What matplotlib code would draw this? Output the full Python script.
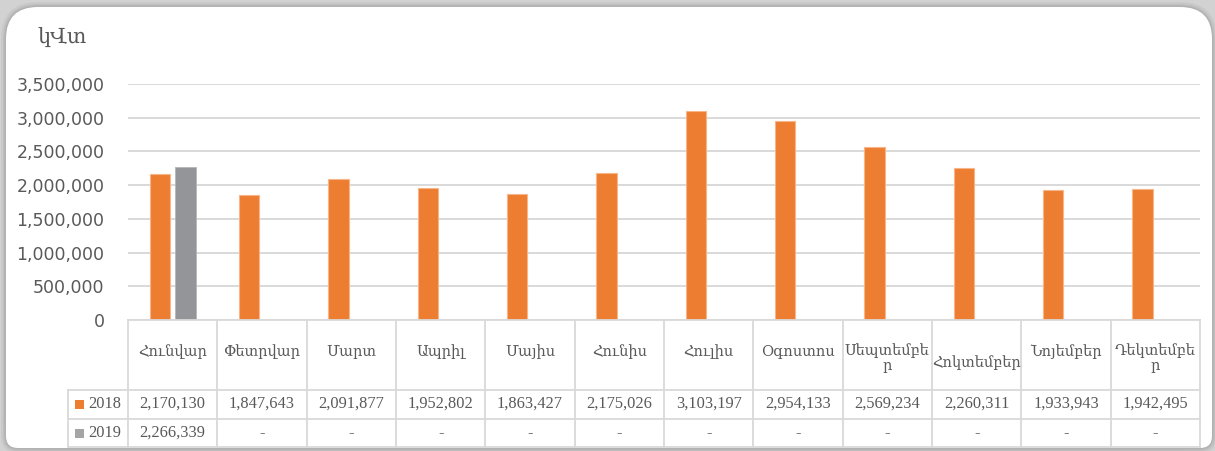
import matplotlib
matplotlib.use("Agg")
import matplotlib.pyplot as plt
from matplotlib.patches import FancyBboxPatch, Rectangle
from matplotlib.ticker import FuncFormatter

# ---------------- data ----------------
months = ['Հունվար', 'Փետրվար', 'Մարտ', 'Ապրիլ', 'Մայիս', 'Հունիս', 'Հուլիս',
          'Օգոստոս', 'Սեպտեմբե\nր', 'Հոկտեմբեր', 'Նոյեմբեր', 'Դեկտեմբե\nր']
series_names = ['2018', '2019']
vals_2018 = [2170130, 1847643, 2091877, 1952802, 1863427, 2175026, 3103197,
             2954133, 2569234, 2260311, 1933943, 1942495]
vals_2019 = [2266339, None, None, None, None, None, None, None, None, None, None, None]
y_ticks = [0, 500000, 1000000, 1500000, 2000000, 2500000, 3000000, 3500000]
unit_label = 'կՎտ'

# ---------------- style ----------------
W, H = 1215, 451
C18 = '#ED7D31'
C19_BAR = '#939598'
C19_KEY = '#A5A5A5'
GRID = '#D9D9D9'
TXT = '#595959'
SERIF = ['Liberation Serif', 'DejaVu Serif', 'DejaVu Sans']
SANS = ['DejaVu Sans']

fig = plt.figure(figsize=(W / 100, H / 100), dpi=100)
fig.patch.set_facecolor('#D2D2D2')

# background card with shadow (darker next to the card); big top corners, small bottom ones
bg = fig.add_axes([0, 0, 1, 1], zorder=0)
bg.set_xlim(0, W); bg.set_ylim(0, H); bg.axis('off')
cx0, cy0, cw, ch = 6, 3, 1206, 441

def card(pad, col):
    bg.add_patch(FancyBboxPatch((cx0 - pad, cy0 - pad), cw + 2 * pad, ch + 2 * pad,
                                boxstyle="round,pad=0,rounding_size=%g" % (32 + pad),
                                facecolor=col, edgecolor='none'))
    bg.add_patch(FancyBboxPatch((cx0 - pad, cy0 - pad), cw + 2 * pad, 300,
                                boxstyle="round,pad=0,rounding_size=%g" % (12 + pad),
                                facecolor=col, edgecolor='none'))

for pad, col in [(5, '#C9C9C9'), (3, '#BEBEBE'), (1.5, '#B2B2B2')]:
    card(pad, col)
card(0, 'white')

# main bar axes (pixel layout: x 128..1200, y 84..320 from top)
x0, x1 = 128, 1200
ytop, ybot = 84, 320
ax = fig.add_axes([x0 / W, (H - ybot) / H, (x1 - x0) / W, (ybot - ytop) / H], zorder=1)
ax.patch.set_alpha(0)
n = len(months)
ax.set_xlim(-0.5, n - 0.5)
ax.set_ylim(0, y_ticks[-1])
ax.set_yticks(y_ticks)
ax.yaxis.set_major_formatter(FuncFormatter(lambda v, p: f"{int(v):,}"))
ax.tick_params(axis='y', length=0, pad=17, labelsize=12.5, labelcolor=TXT)
for lab in ax.get_yticklabels():
    lab.set_family(SANS)
ax.set_xticks([])
for s in ax.spines.values():
    s.set_visible(False)
ax.grid(axis='y', color=GRID, lw=1.4)
ax.set_axisbelow(True)

bw = 0.23
off = 0.144
xs = list(range(n))
ax.bar([x - off for x in xs], vals_2018, width=bw, color=C18,
       edgecolor='#F6B68A', linewidth=0.8, zorder=3)
x19 = [x + off for x, v in zip(xs, vals_2019) if v is not None]
v19 = [v for v in vals_2019 if v is not None]
ax.bar(x19, v19, width=bw, color=C19_BAR, edgecolor='#B5B6B8', linewidth=0.6, zorder=3)

# unit label
fig.text(37 / W, (H - 38) / H, unit_label, fontsize=15, color=TXT, family=SERIF,
         ha='left', va='center')

# ---------------- data table ----------------
ov = fig.add_axes([0, 0, 1, 1], zorder=2)
ov.set_xlim(0, W); ov.set_ylim(H, 0); ov.axis('off')
colw = (x1 - x0) / n
lx = 68
y_hdr_bot, y_r1_bot, y_r2_bot = 390, 419, 447
lw = 1.3
ov.plot([x0, x1], [ybot, ybot], color=GRID, lw=lw)
for yy in (y_hdr_bot, y_r1_bot, y_r2_bot):
    ov.plot([lx, x1], [yy, yy], color=GRID, lw=lw)
for i in range(n + 1):
    xx = x0 + i * colw
    ov.plot([xx, xx], [ybot, y_r2_bot], color=GRID, lw=lw)
ov.plot([lx, lx], [y_hdr_bot, y_r2_bot], color=GRID, lw=lw)

def fmt(v):
    return '-' if v is None else f"{v:,}"

for i, m in enumerate(months):
    cx = x0 + (i + 0.5) * colw
    yc = 352
    if '\n' in m:
        yc = 358
    elif len(m) >= 9:
        yc = 363
    ov.text(cx, yc, m, ha='center', va='center', fontsize=10.5, color=TXT,
            family=SERIF, linespacing=1.25)
    ov.text(cx, 404, fmt(vals_2018[i]), ha='center', va='center', fontsize=11.8,
            color=TXT, family=SERIF)
    ov.text(cx, 433, fmt(vals_2019[i]), ha='center', va='center', fontsize=11.8,
            color=TXT, family=SERIF)

for name, col, yc in [(series_names[0], C18, 404), (series_names[1], C19_KEY, 433)]:
    ov.add_patch(Rectangle((75, yc - 4.5), 9, 9, facecolor=col, edgecolor='none'))
    ov.text(88, yc, name, ha='left', va='center', fontsize=11.8, color=TXT, family=SERIF)

fig.savefig('out.png', dpi=100, facecolor=fig.get_facecolor())
